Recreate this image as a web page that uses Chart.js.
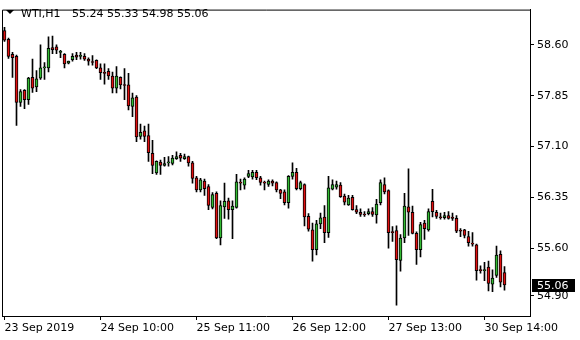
<!DOCTYPE html>
<html>
<head>
<meta charset="utf-8">
<script src="https://cdn.jsdelivr.net/npm/chart.js@4.4.1/dist/chart.umd.min.js"></script>
<style>
  html, body { margin: 0; padding: 0; background: #fff; }
  #wrap { width: 580px; height: 340px; }
</style>
</head>
<body>
<div id="wrap"><canvas id="chart"></canvas></div>
<script>
// WTI H1 bars (oldest first)
const symbol = 'WTI,H1';
const lastBar = ['55.24', '55.33', '54.98', '55.06'];
const lastPrice = 55.06;

const opens = [
  58.81, 58.68, 58.46, 58.43, 57.75, 57.93, 57.79, 58.12, 57.98, 58.11,
  58.26, 58.26, 58.56, 58.57, 58.49, 58.46, 58.33, 58.38, 58.45, 58.43,
  58.43, 58.39, 58.35, 58.37, 58.26, 58.19, 58.21, 58.14, 57.96, 58.12,
  58.01, 58.01, 57.69, 57.83, 57.25, 57.33, 57.26, 57.00, 56.71, 56.87,
  56.82, 56.86, 56.85, 56.92, 56.97, 56.92, 56.95, 56.86, 56.64, 56.46,
  56.59, 56.51, 56.20, 56.41, 55.75, 56.21, 56.30, 56.17, 56.20, 56.57,
  56.53, 56.66, 56.65, 56.72, 56.64, 56.57, 56.54, 56.59, 56.57, 56.46,
  56.43, 56.27, 56.66, 56.72, 56.48, 56.54, 56.07, 55.87, 55.58, 55.96,
  56.06, 55.83, 56.47, 56.50, 56.53, 56.37, 56.24, 56.35, 56.17, 56.13,
  56.10, 56.11, 56.14, 56.09, 56.27, 56.54, 56.45, 55.84, 55.86, 55.42,
  55.75, 56.21, 56.13, 55.82, 55.58, 55.97, 55.87, 56.29, 56.13, 56.06,
  56.05, 56.08, 56.06, 56.04, 55.86, 55.87, 55.77, 55.67, 55.65, 55.28,
  55.27, 55.32, 55.07, 55.20, 55.51, 55.24
];
const highs = [
  58.86, 58.70, 58.49, 58.45, 57.94, 57.94, 58.12, 58.39, 58.22, 58.60,
  58.34, 58.72, 58.73, 58.60, 58.52, 58.47, 58.36, 58.47, 58.49, 58.49,
  58.47, 58.41, 58.44, 58.38, 58.32, 58.32, 58.25, 58.20, 58.28, 58.13,
  58.25, 58.18, 57.89, 57.85, 57.43, 57.40, 57.43, 57.19, 56.89, 56.90,
  56.94, 56.95, 56.97, 57.02, 57.00, 56.99, 56.96, 56.88, 56.66, 56.63,
  56.62, 56.54, 56.42, 56.43, 56.30, 56.56, 56.34, 56.30, 56.69, 56.62,
  56.64, 56.75, 56.75, 56.75, 56.66, 56.59, 56.61, 56.61, 56.58, 56.47,
  56.46, 56.67, 56.86, 56.78, 56.59, 56.55, 56.11, 55.97, 56.01, 56.12,
  56.23, 56.66, 56.61, 56.59, 56.57, 56.40, 56.38, 56.38, 56.23, 56.18,
  56.14, 56.18, 56.20, 56.32, 56.61, 56.64, 56.46, 55.92, 55.93, 55.80,
  56.41, 56.77, 56.22, 55.84, 55.98, 56.01, 56.18, 56.47, 56.16, 56.12,
  56.13, 56.14, 56.12, 56.08, 55.89, 55.88, 55.85, 55.83, 55.66, 55.34,
  55.39, 55.41, 55.28, 55.63, 55.56, 55.33
];
const lows = [
  58.65, 58.40, 58.12, 57.41, 57.69, 57.66, 57.72, 57.90, 57.91, 58.09,
  58.09, 58.20, 58.47, 58.47, 58.41, 58.26, 58.32, 58.36, 58.38, 58.39,
  58.37, 58.30, 58.30, 58.25, 58.09, 58.02, 58.09, 57.89, 57.89, 57.95,
  57.79, 57.64, 57.54, 57.17, 57.21, 57.17, 56.88, 56.70, 56.69, 56.69,
  56.81, 56.81, 56.83, 56.91, 56.88, 56.91, 56.81, 56.56, 56.43, 56.43,
  56.38, 56.17, 56.18, 55.74, 55.65, 56.04, 56.03, 55.74, 56.19, 56.46,
  56.47, 56.64, 56.62, 56.61, 56.53, 56.46, 56.51, 56.52, 56.43, 56.33,
  56.24, 56.19, 56.62, 56.46, 56.46, 55.93, 55.85, 55.41, 55.50, 55.89,
  55.68, 55.76, 56.46, 56.47, 56.35, 56.24, 56.23, 56.16, 56.11, 56.07,
  56.07, 56.09, 56.07, 55.97, 56.24, 56.40, 55.60, 55.70, 54.76, 55.26,
  55.68, 55.79, 55.81, 55.36, 55.47, 55.73, 55.85, 56.06, 56.04, 56.03,
  56.03, 56.03, 56.01, 55.83, 55.77, 55.75, 55.63, 55.63, 55.13, 55.23,
  55.12, 54.97, 54.96, 55.17, 55.03, 54.98
];
const closes = [
  58.67, 58.43, 58.41, 57.75, 57.91, 57.79, 58.11, 57.96, 58.10, 58.26,
  58.27, 58.55, 58.53, 58.52, 58.50, 58.32, 58.36, 58.43, 58.42, 58.44,
  58.39, 58.36, 58.34, 58.26, 58.19, 58.18, 58.14, 57.96, 58.14, 58.01,
  58.00, 57.70, 57.82, 57.24, 57.31, 57.25, 57.01, 56.82, 56.88, 56.82,
  56.85, 56.87, 56.93, 56.95, 56.93, 56.95, 56.86, 56.63, 56.46, 56.61,
  56.48, 56.23, 56.39, 55.75, 56.23, 56.29, 56.17, 56.22, 56.58, 56.56,
  56.62, 56.70, 56.72, 56.64, 56.57, 56.56, 56.59, 56.56, 56.46, 56.41,
  56.27, 56.66, 56.72, 56.48, 56.57, 56.06, 55.88, 55.58, 55.96, 56.05,
  55.83, 56.49, 56.54, 56.54, 56.36, 56.28, 56.34, 56.17, 56.13, 56.10,
  56.09, 56.14, 56.10, 56.25, 56.57, 56.43, 55.83, 55.83, 55.43, 55.75,
  56.22, 56.13, 55.82, 55.58, 55.95, 55.89, 56.14, 56.14, 56.07, 56.05,
  56.08, 56.04, 56.04, 55.85, 55.85, 55.79, 55.68, 55.66, 55.27, 55.27,
  55.28, 55.08, 55.16, 55.50, 55.10, 55.06
];

const timeLabels = ['23 Sep 2019', '24 Sep 10:00', '25 Sep 11:00', '26 Sep 12:00', '27 Sep 13:00', '30 Sep 14:00'];
const timeLabelBars = [0, 24, 48, 72, 96, 120];
const priceTicks = [58.60, 57.85, 57.10, 56.35, 55.60, 54.90];

const upColor = '#33bb33';
const downColor = '#e01010';
const font = { family: 'DejaVu Sans', size: 11 };

const bodies = opens.map((o, i) => ({ x: i, y: [o, closes[i]] }));
const wicks = lows.map((l, i) => ({ x: i, y: [l, highs[i]] }));

// frame, header and last price box, MT4 style
const mtDecor = {
  id: 'mtDecor',
  afterDraw(chart) {
    const { ctx, chartArea: a } = chart;
    const y = chart.scales.y;
    ctx.save();
    ctx.strokeStyle = '#000';
    ctx.lineWidth = 1;
    ctx.beginPath();
    ctx.moveTo(a.left + 0.5, a.bottom);
    ctx.lineTo(a.left + 0.5, a.top + 0.5);
    ctx.lineTo(a.right, a.top + 0.5);
    ctx.stroke();

    ctx.fillStyle = '#000';
    ctx.beginPath();
    ctx.moveTo(6, 10);
    ctx.lineTo(14, 10);
    ctx.lineTo(10, 14);
    ctx.closePath();
    ctx.fill();
    ctx.font = '11px "DejaVu Sans"';
    ctx.textBaseline = 'alphabetic';
    ctx.textAlign = 'left';
    ctx.fillText(symbol, 21, 17);
    ctx.fillText(lastBar.join(' '), 72, 17);

    const py = Math.round(y.getPixelForValue(lastPrice));
    ctx.fillRect(532, py - 6, 43, 13);
    ctx.fillStyle = '#fff';
    ctx.textBaseline = 'middle';
    ctx.fillText(lastPrice.toFixed(2), 537, py + 1);
    ctx.restore();
  }
};

new Chart(document.getElementById('chart'), {
  type: 'bar',
  data: {
    datasets: [
      {
        data: bodies,
        grouped: false,
        barThickness: 3,
        minBarLength: 1,
        borderWidth: 1,
        borderSkipped: false,
        borderColor: '#000',
        backgroundColor: c => closes[c.dataIndex] >= opens[c.dataIndex] ? upColor : downColor
      },
      {
        data: wicks,
        grouped: false,
        barThickness: 1,
        borderWidth: 0,
        backgroundColor: '#000'
      }
    ]
  },
  options: {
    responsive: true,
    maintainAspectRatio: false,
    animation: false,
    layout: { padding: { left: 2, top: 3, right: 0, bottom: 0 } },
    plugins: { legend: { display: false }, tooltip: { enabled: false } },
    scales: {
      x: {
        type: 'linear',
        offset: false,
        min: -0.625,
        max: 131.375,
        grid: { offset: false, drawOnChartArea: false, tickLength: 4, color: '#000' },
        border: { color: '#000' },
        afterBuildTicks: s => { s.ticks = timeLabelBars.map(v => ({ value: v })); },
        afterFit: s => { s.height = 24; },
        ticks: {
          autoSkip: false,
          maxRotation: 0,
          align: 'start',
          padding: 2,
          color: '#000',
          font: font,
          callback: v => timeLabels[timeLabelBars.indexOf(v)]
        }
      },
      y: {
        position: 'right',
        min: 54.60,
        max: 59.12,
        grid: { drawOnChartArea: false, tickLength: 4, color: '#000' },
        border: { color: '#000' },
        afterBuildTicks: s => { s.ticks = priceTicks.map(v => ({ value: v })); },
        afterFit: s => { s.width = 50; },
        ticks: {
          padding: 3,
          color: '#000',
          font: font,
          callback: v => v.toFixed(2)
        }
      }
    }
  },
  plugins: [mtDecor]
});
</script>
</body>
</html>
